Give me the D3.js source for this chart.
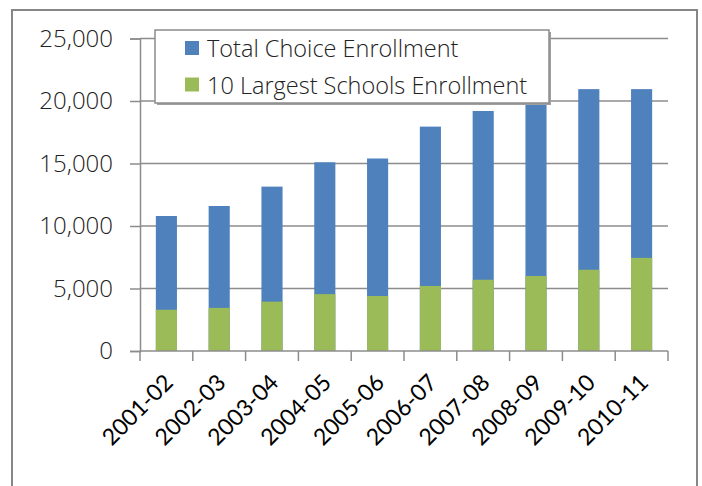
<!DOCTYPE html>
<html><head><meta charset="utf-8">
<script src="https://d3js.org/d3.v7.min.js"></script>
<style>body{margin:0;background:#fff;}</style>
</head><body>
<script>
const categories = ["2001-02","2002-03","2003-04","2004-05","2005-06","2006-07","2007-08","2008-09","2009-10","2010-11"];
const totalEnrollment = [10800,11600,13150,15100,15400,17950,19200,19900,20950,20950];
const largestEnrollment = [3300,3450,3950,4550,4400,5200,5700,6000,6500,7450];
const yTicks = [0,5000,10000,15000,20000,25000];
const seriesNames = ["Total Choice Enrollment","10 Largest Schools Enrollment"];
const colors = ["#4F81BD","#9BBB59"];

const W=702,H=486;
const svg=d3.select("body").append("svg").attr("width",W).attr("height",H);
svg.append("rect").attr("x",12).attr("y",10).attr("width",685).attr("height",480)
  .attr("fill","#fff").attr("stroke","#878787").attr("stroke-width",2);

const x=d3.scaleBand().domain(categories).range([140,668]).paddingInner(0.6).paddingOuter(0.3);
const xb=d3.scaleBand().domain(categories).range([140,668]);
const y=d3.scaleLinear().domain([0,25000]).range([351,38.5]);

// gridlines
svg.append("g").selectAll("line").data(yTicks.slice(1)).join("line")
  .attr("x1",140).attr("x2",668).attr("y1",d=>y(d)).attr("y2",d=>y(d))
  .attr("stroke","#8c8c8c").attr("stroke-width",1.3);

svg.append("g").selectAll("rect").data(categories).join("rect")
  .attr("x",d=>x(d)).attr("width",x.bandwidth())
  .attr("y",(d,i)=>y(totalEnrollment[i])).attr("height",(d,i)=>y(0)-y(totalEnrollment[i]))
  .attr("fill",colors[0]);
svg.append("g").selectAll("rect").data(categories).join("rect")
  .attr("x",d=>x(d)).attr("width",x.bandwidth())
  .attr("y",(d,i)=>y(largestEnrollment[i])).attr("height",(d,i)=>y(0)-y(largestEnrollment[i]))
  .attr("fill",colors[1]);

// y axis
const yAxis=d3.axisLeft(y).tickValues(yTicks).tickFormat(d3.format(",")).tickSize(10).tickPadding(17);
const gy=svg.append("g").attr("transform","translate(140,0)").call(yAxis);
gy.select(".domain").attr("stroke","#8c8c8c").attr("stroke-width",1.5);
gy.selectAll(".tick line").attr("stroke","#8c8c8c").attr("stroke-width",1.5);
gy.selectAll("text").attr("font-family","'Open Sans', sans-serif").attr("font-weight",300).attr("font-size",24).attr("fill","#222");

// x axis
const gx=svg.append("g").attr("transform","translate(0,351)");
gx.append("line").attr("x1",140).attr("x2",668).attr("stroke","#8c8c8c").attr("stroke-width",1.5);
const edges=categories.map(c=>xb(c)).concat([668]);
gx.selectAll(".tk").data(edges).join("line").attr("class","tk")
  .attr("x1",d=>d).attr("x2",d=>d).attr("y1",0).attr("y2",10)
  .attr("stroke","#8c8c8c").attr("stroke-width",1.5);
gx.selectAll(".lbl").data(categories).join("text").attr("class","lbl")
  .attr("transform",d=>`translate(${xb(d)+xb.bandwidth()/2+8},${33}) rotate(-45)`)
  .attr("text-anchor","end")
  .attr("font-family","Lato, sans-serif").attr("font-size",23).attr("fill","#000")
  .text(d=>d);

// legend
const lg=svg.append("g");
lg.append("rect").attr("x",157).attr("y",32).attr("width",394).attr("height",73).attr("fill","#a0a0a0");
lg.append("rect").attr("x",155).attr("y",30).attr("width",394).attr("height",73).attr("fill","#fff").attr("stroke","#8c8c8c").attr("stroke-width",1.5);
seriesNames.forEach((n,i)=>{
  lg.append("rect").attr("x",185).attr("y",41+i*36.5).attr("width",14).attr("height",14).attr("fill",colors[i]);
  lg.append("text").attr("x",207).attr("y",57+i*36.5).attr("font-family","'Open Sans', sans-serif").attr("font-weight",300)
    .attr("font-size",23.5).attr("fill","#222").text(n);
});
</script>
</body></html>
